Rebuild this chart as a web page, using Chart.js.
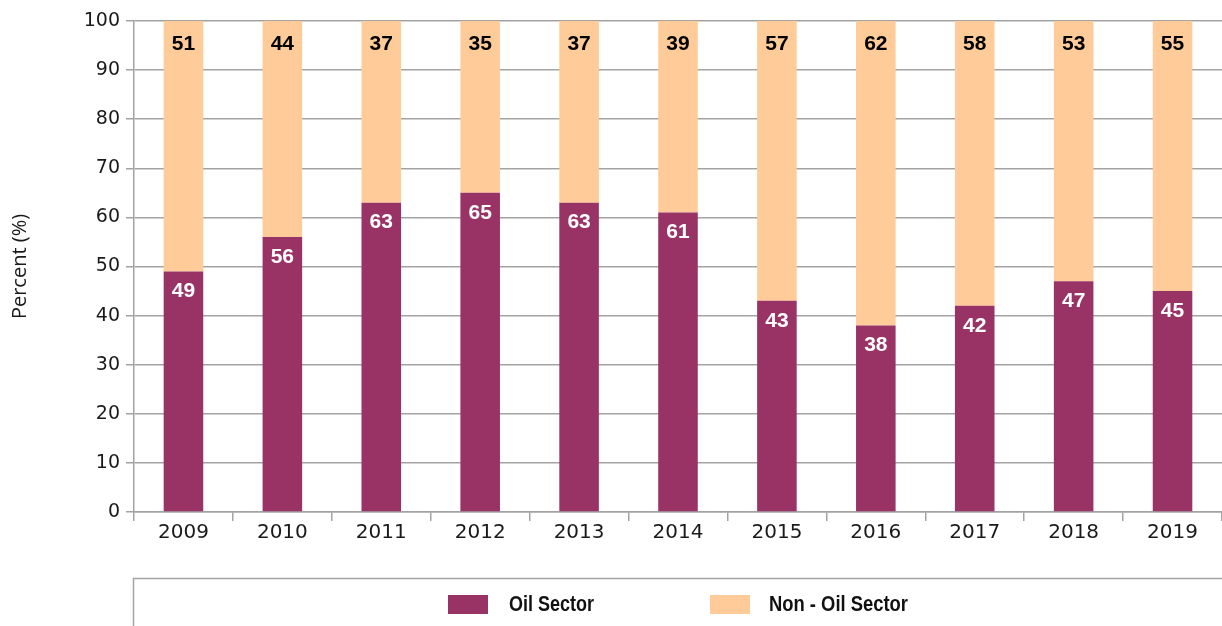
<!DOCTYPE html>
<html>
<head>
<meta charset="utf-8">
<script src="https://cdn.jsdelivr.net/npm/chart.js@4"></script>
<style>
    html, body { margin: 0; padding: 0; background: #fff; }
    #wrap { position: relative; width: 1222px; height: 626px; }
</style>
</head>
<body>
<div id="wrap"><canvas id="sectorChart" width="1222" height="626"></canvas></div>
<script>
    // 年ごとのデータ
    const years = ['2009', '2010', '2011', '2012', '2013', '2014', '2015', '2016', '2017', '2018', '2019'];
    const oilSector = [49, 56, 63, 65, 63, 61, 43, 38, 42, 47, 45];
    const nonOilSector = [51, 44, 37, 35, 37, 39, 57, 62, 58, 53, 55];
    const yTicks = [0, 10, 20, 30, 40, 50, 60, 70, 80, 90, 100];

    const OIL_COLOR = '#993366';
    const NON_OIL_COLOR = '#FFCC99';
    const GRID_COLOR = '#a3a3a3';

    /**
     * 棒の上部に値ラベルを描く
     */
    const barLabels = {
        id: 'barLabels',
        afterDatasetsDraw(chart) {
            const ctx = chart.ctx;
            ctx.save();
            ctx.font = 'bold 21px "Liberation Sans", Arial, sans-serif';
            ctx.textAlign = 'center';
            ctx.textBaseline = 'middle';
            chart.data.datasets.forEach((ds, di) => {
                const meta = chart.getDatasetMeta(di);
                meta.data.forEach((bar, i) => {
                    ctx.fillStyle = di === 0 ? '#ffffff' : '#000000';
                    const offset = di === 0 ? 20 : 23.5;
                    ctx.fillText(String(ds.data[i]), bar.x, bar.y + offset);
                });
            });
            ctx.restore();
        }
    };

    /**
     * 下部の凡例（枠線つき、文字は縦長に詰める）
     */
    const boxLegend = {
        id: 'boxLegend',
        afterDraw(chart) {
            const ctx = chart.ctx;
            ctx.save();
            ctx.strokeStyle = GRID_COLOR;
            ctx.lineWidth = 1.5;
            ctx.beginPath();
            ctx.moveTo(133.5, 626);
            ctx.lineTo(133.5, 578.5);
            ctx.lineTo(1222, 578.5);
            ctx.stroke();

            const items = [
                { x: 448, textX: 509, textW: 85 },
                { x: 710, textX: 769, textW: 139 }
            ];
            ctx.font = 'bold 22px "Liberation Sans", sans-serif';
            ctx.textBaseline = 'middle';
            ctx.textAlign = 'left';
            chart.data.datasets.forEach((ds, i) => {
                const it = items[i];
                ctx.fillStyle = ds.backgroundColor;
                ctx.fillRect(it.x, 595, 40, 19);
                ctx.fillStyle = '#111111';
                const w = ctx.measureText(ds.label).width;
                const sx = it.textW / w;
                ctx.save();
                ctx.translate(it.textX, 604.5);
                ctx.scale(sx, 1);
                ctx.fillText(ds.label, 0, 0);
                ctx.restore();
            });
            ctx.restore();
        }
    };

    const ctx = document.getElementById('sectorChart').getContext('2d');
    new Chart(ctx, {
        type: 'bar',
        data: {
            labels: years,
            datasets: [
                {
                    label: 'Oil Sector',
                    data: oilSector,
                    backgroundColor: OIL_COLOR,
                    barPercentage: 0.4,
                    categoryPercentage: 1.0
                },
                {
                    label: 'Non - Oil Sector',
                    data: nonOilSector,
                    backgroundColor: NON_OIL_COLOR,
                    barPercentage: 0.4,
                    categoryPercentage: 1.0
                }
            ]
        },
        options: {
            responsive: false,
            animation: false,
            layout: {
                padding: { top: 21, right: 0, bottom: 74, left: 0 }
            },
            scales: {
                x: {
                    stacked: true,
                    afterFit(scale) { scale.height = 40; },
                    grid: {
                        display: true,
                        offset: true,
                        drawOnChartArea: false,
                        drawTicks: true,
                        tickLength: 9,
                        color: GRID_COLOR,
                        lineWidth: 1.5
                    },
                    border: { display: true, color: GRID_COLOR, width: 1.5 },
                    ticks: {
                        color: '#1a1a1a',
                        padding: 0,
                        font: { family: '"DejaVu Sans", sans-serif', size: 20 }
                    }
                },
                y: {
                    stacked: true,
                    min: 0,
                    max: 100,
                    afterFit(scale) { scale.width = 134; },
                    afterBuildTicks(scale) {
                        scale.ticks = yTicks.map(v => ({ value: v }));
                    },
                    grid: {
                        color: GRID_COLOR,
                        lineWidth: 1.5,
                        tickLength: 8
                    },
                    border: { display: true, color: GRID_COLOR, width: 1.5 },
                    ticks: {
                        color: '#1a1a1a',
                        padding: 6,
                        font: { family: '"DejaVu Sans", sans-serif', size: 19 }
                    },
                    title: {
                        display: true,
                        text: 'Percent (%)',
                        color: '#1a1a1a',
                        padding: { top: 8, bottom: 0 },
                        font: { family: '"Open Sans", sans-serif', size: 20 }
                    }
                }
            },
            plugins: {
                legend: { display: false },
                tooltip: { enabled: false }
            }
        },
        plugins: [barLabels, boxLegend]
    });
</script>
</body>
</html>
